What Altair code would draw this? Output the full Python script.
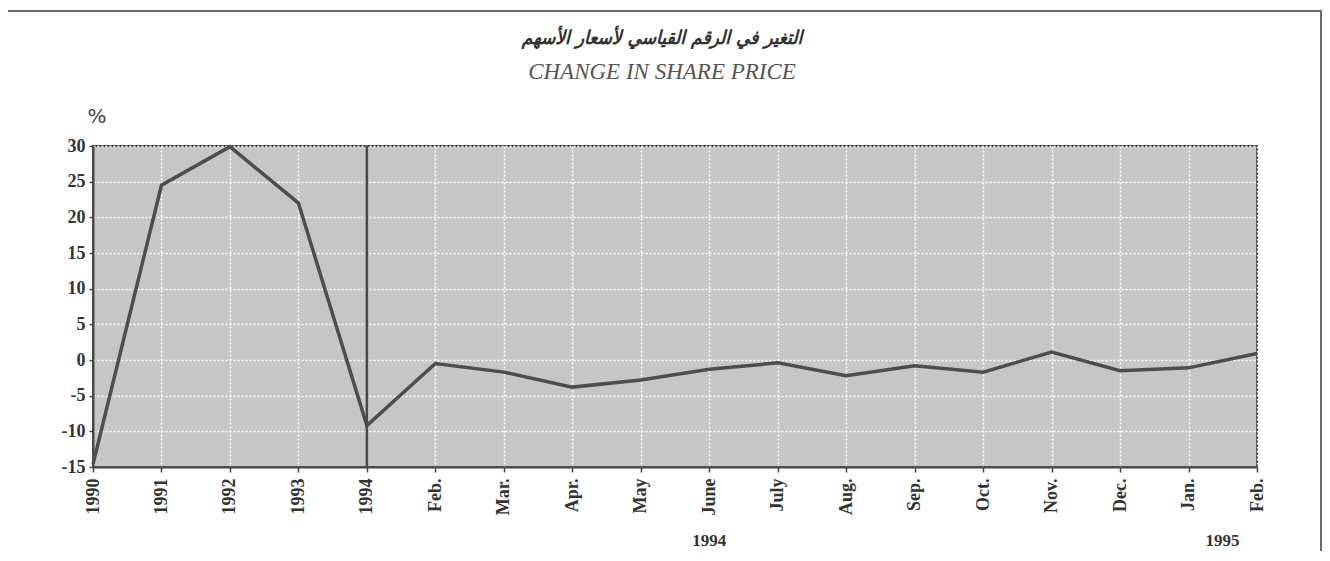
import altair as alt
import pandas as pd

# ---- data ----
keys = ["1990", "1991", "1992", "1993", "1994",
        "Feb. 94", "Mar. 94", "Apr. 94", "May 94", "June 94", "July 94",
        "Aug. 94", "Sep. 94", "Oct. 94", "Nov. 94", "Dec. 94",
        "Jan. 95", "Feb. 95"]
values = [-14.6, 24.5, 29.9, 22.0, -9.2,
          -0.5, -1.7, -3.8, -2.8, -1.3, -0.4,
          -2.2, -0.8, -1.7, 1.1, -1.5,
          -1.1, 0.9]
y_ticks = [-15, -10, -5, 0, 5, 10, 15, 20, 25, 30]
divider_key = ["1994"]
group_keys = ["June 94", "Jan. 95"]
group_labels = ["1994", "1995"]
group_dx = [0, 34]

title_ar = "التغير في الرقم القياسي لأسعار الأسهم"
title_en = "CHANGE IN SHARE PRICE"

W, H = 1164, 321

df = pd.DataFrame({"key": keys, "value": values})
df_div = pd.DataFrame({"key": divider_key})
df_grp = pd.DataFrame({"key": group_keys, "label": group_labels, "dx": group_dx})
df_one = pd.DataFrame({"a": [0]})

xscale = alt.Scale(type="point", padding=0, domain=keys)
yscale = alt.Scale(domain=[-15, 30], nice=False, zero=False)

serif = "Liberation Serif"

frame = alt.Chart(df_one).mark_rect(
    filled=False, stroke="#6a6a6a", strokeWidth=2
).encode(
    x=alt.value(-86), x2=alt.value(1228),
    y=alt.value(-135), y2=alt.value(560),
)

t_ar = alt.Chart(df_one).mark_text(
    text=title_ar, font="DejaVu Sans Condensed", fontSize=19, fontWeight="bold",
    fontStyle="italic", color="#333", align="center", baseline="middle"
).encode(x=alt.value(569), y=alt.value(-108))

t_en = alt.Chart(df_one).mark_text(
    text=title_en, font=serif, fontSize=23, fontStyle="italic",
    color="#555", align="center", baseline="middle"
).encode(x=alt.value(569), y=alt.value(-74))

line = alt.Chart(df).mark_line(color="#4d4d4d", strokeWidth=3.5).encode(
    x=alt.X("key:O", sort=keys, scale=xscale,
            axis=alt.Axis(
                title=None, labelAngle=-90, labelAlign="right",
                labelBaseline="middle", labelFont=serif, labelFontSize=18,
                labelFontWeight="bold", labelColor="#333", labelPadding=6,
                labelExpr="split(datum.label, ' ')[0]",
                grid=True, gridColor="white", gridDash=[2, 2], gridWidth=1.5,
                domainColor="#444", domainWidth=2, tickColor="#444",
                tickSize=5, tickWidth=1.5)),
    y=alt.Y("value:Q", scale=yscale,
            axis=alt.Axis(
                title="%", titleAngle=0, titleAlign="left",
                titleBaseline="middle", titleX=-6, titleY=-30,
                titleFont="DejaVu Sans", titleFontSize=20,
                titleFontWeight="normal", titleColor="#444",
                values=y_ticks, labelExpr="toString(datum.value)",
                labelFont=serif, labelFontSize=18,
                labelFontWeight="bold", labelColor="#333", labelPadding=4,
                grid=True, gridColor="white", gridDash=[2, 2], gridWidth=1.5,
                domainColor="#444", domainWidth=2, tickColor="#444",
                tickSize=4, tickWidth=1.5)),
)

divider = alt.Chart(df_div).mark_rule(color="#4a4a4a", strokeWidth=2.5).encode(
    x=alt.X("key:O", sort=keys, scale=xscale)
)

groups = alt.Chart(df_grp).mark_text(
    font=serif, fontSize=17, fontWeight="bold", color="#333",
    baseline="middle", align="center"
).encode(
    x=alt.X("key:O", sort=keys, scale=xscale),
    y=alt.value(H + 74),
    xOffset=alt.XOffset("dx:Q", scale=None),
    text="label:N",
)

chart = alt.layer(frame, t_ar, t_en, line, divider, groups).properties(
    width=W, height=H,
    padding={"left": 85, "top": 138, "right": 65, "bottom": 84},
    autosize=alt.AutoSizeParams(type="none"),
).configure_view(
    fill="#c6c6c6", stroke="#444", strokeWidth=2
)

chart.save("out.html", embed_options={"renderer": "svg", "actions": False})
